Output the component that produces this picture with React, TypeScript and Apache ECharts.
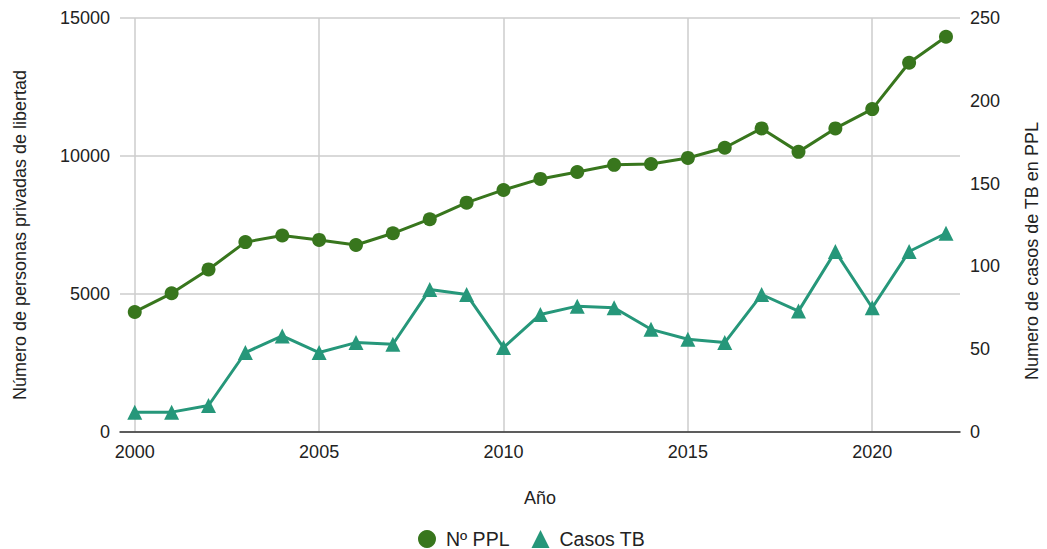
import React, { useEffect, useRef } from "react";
import * as echarts from "echarts";

// Years and series values
const years: number[] = [
  2000, 2001, 2002, 2003, 2004, 2005, 2006, 2007, 2008, 2009, 2010,
  2011, 2012, 2013, 2014, 2015, 2016, 2017, 2018, 2019, 2020, 2021, 2022,
];
const pplValues: number[] = [
  4350, 5025, 5890, 6880, 7120, 6960, 6775, 7200, 7710, 8310, 8770,
  9170, 9420, 9680, 9710, 9930, 10300, 11000, 10150, 11000, 11700, 13380, 14320,
];
const tbValues: number[] = [
  12, 12, 16, 48, 58, 48, 54, 53, 86, 83, 51,
  71, 76, 75, 62, 56, 54, 83, 73, 109, 75, 109, 120,
];
const xTickYears: number[] = [2000, 2005, 2010, 2015, 2020];

const FONT = "'Liberation Sans', Arial, sans-serif";
const TEXT = "#222222";
const GREEN = "#38761d";
const TEAL = "#26977a";

export default function App() {
  const ref = useRef<HTMLDivElement>(null);

  useEffect(() => {
    document.body.style.margin = "0";
    if (!ref.current) return;
    const chart = echarts.init(ref.current, undefined, { renderer: "svg" });
    chart.setOption({
      animation: false,
      textStyle: { fontFamily: FONT, color: TEXT },
      grid: { left: 120, right: 87, top: 18, bottom: 117, containLabel: false },
      xAxis: {
        type: "value",
        min: 1999.6,
        max: 2022.38,
        name: "Año",
        nameLocation: "middle",
        nameGap: 57,
        nameTextStyle: { fontSize: 18, color: TEXT, fontFamily: FONT },
        axisLine: { show: true, onZero: false, lineStyle: { color: "#333333", width: 1.5 } },
        axisTick: { show: false, customValues: xTickYears },
        axisLabel: {
          customValues: xTickYears,
          fontSize: 18,
          color: TEXT,
          margin: 11,
          formatter: (v: number) => String(Math.round(v)),
        },
        splitLine: { show: true, lineStyle: { color: "#cccccc", width: 1.5 } },
      },
      yAxis: [
        {
          type: "value",
          min: 0,
          max: 15000,
          interval: 5000,
          axisLine: { show: false },
          axisTick: { show: false },
          axisLabel: {
            fontSize: 18,
            color: TEXT,
            margin: 10,
            formatter: (v: number) => String(v),
          },
          splitLine: { show: true, lineStyle: { color: "#cccccc", width: 1.5 } },
        },
        {
          type: "value",
          min: 0,
          max: 250,
          interval: 50,
          position: "right",
          axisLine: { show: false },
          axisTick: { show: false },
          axisLabel: {
            fontSize: 18,
            color: TEXT,
            margin: 10,
            formatter: (v: number) => String(v),
          },
          splitLine: { show: false },
        },
      ],
      legend: {
        bottom: 0,
        left: 418,
        padding: 0,
        itemWidth: 18,
        itemHeight: 18,
        itemGap: 22,
        textStyle: { fontSize: 19.5, color: TEXT, fontFamily: FONT, padding: [0, 0, 0, 5] },
        data: [
          { name: "Nº PPL", icon: "circle" },
          { name: "Casos TB", icon: "triangle" },
        ],
      },
      graphic: [
        {
          type: "text",
          x: 20,
          y: 235,
          rotation: Math.PI / 2,
          style: {
            text: "Número de personas privadas de libertad",
            fontSize: 18,
            fontFamily: FONT,
            fill: TEXT,
            align: "center",
            verticalAlign: "middle",
          },
        },
        {
          type: "text",
          x: 1032,
          y: 251,
          rotation: Math.PI / 2,
          style: {
            text: "Numero de casos de TB en PPL",
            fontSize: 18,
            fontFamily: FONT,
            fill: TEXT,
            align: "center",
            verticalAlign: "middle",
          },
        },
      ],
      series: [
        {
          name: "Nº PPL",
          type: "line",
          yAxisIndex: 0,
          data: years.map((y, i) => [y, pplValues[i]]),
          symbol: "circle",
          symbolSize: 14,
          itemStyle: { color: GREEN },
          lineStyle: { color: GREEN, width: 3 },
        },
        {
          name: "Casos TB",
          type: "line",
          yAxisIndex: 1,
          data: years.map((y, i) => [y, tbValues[i]]),
          symbol: "triangle",
          symbolSize: 15,
          itemStyle: { color: TEAL },
          lineStyle: { color: TEAL, width: 3 },
        },
      ],
    });
    return () => chart.dispose();
  }, []);

  return <div ref={ref} style={{ width: 1047, height: 549 }} />;
}
